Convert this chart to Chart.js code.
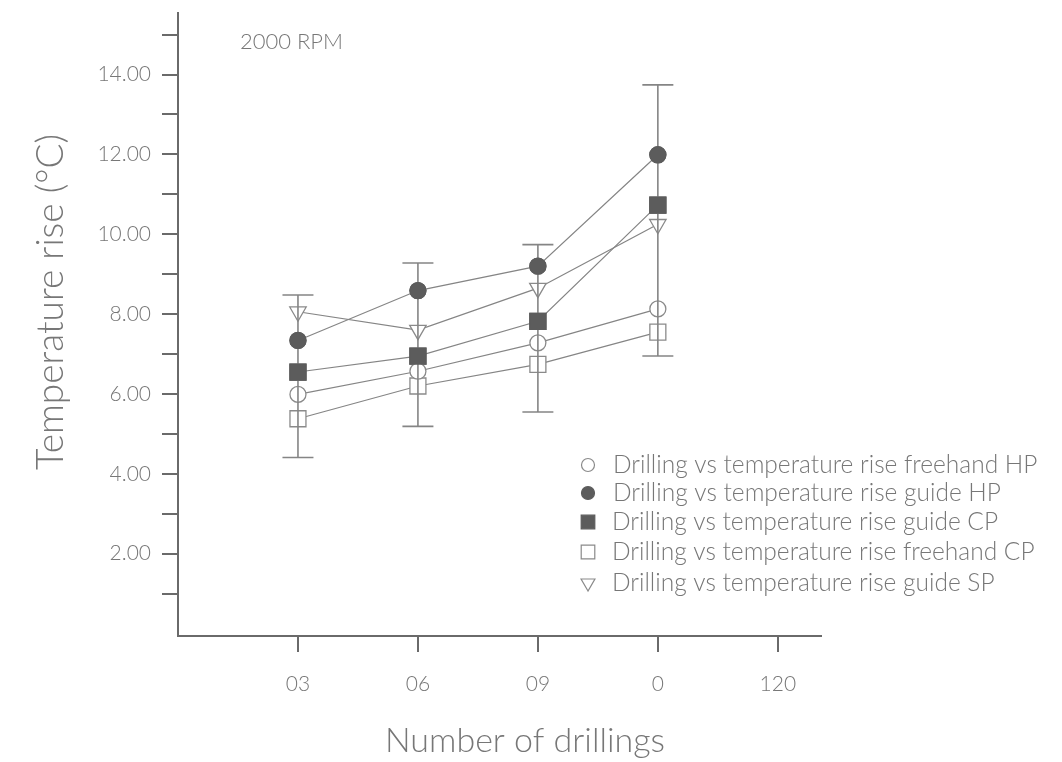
<!DOCTYPE html>
<html>
<head>
<meta charset="utf-8">
<script src="https://cdn.jsdelivr.net/npm/chart.js@4.4.1/dist/chart.umd.min.js"></script>
<style>
  html, body { margin: 0; padding: 0; background: #fff; }
  #wrap { width: 1062px; height: 762px; }
</style>
</head>
<body>
<div id="wrap"><canvas id="chart" width="1062" height="762"></canvas></div>
<script>
// ── Dati ────────────────────────────────
const xPos = [1, 2, 3, 4];
const xTickValues = [1, 2, 3, 4, 5];
const xTickLabels = ['03', '06', '09', '0', '120'];
const yTickValues = [1, 2, 3, 4, 5, 6, 7, 8, 9, 10, 11, 12, 13, 14, 15];

const freehandHP = [5.99, 6.57, 7.28, 8.13];
const guideHP    = [7.34, 8.59, 9.20, 11.99];
const guideCP    = [6.55, 6.95, 7.82, 10.73];
const freehandCP = [5.38, 6.20, 6.74, 7.55];
const guideSP    = [8.06, 7.60, 8.65, 10.25];

const errLow  = [4.41, 5.19, 5.55, 6.95];
const errHigh = [8.48, 9.28, 9.74, 13.74];

const seriesNames = [
  'Drilling vs temperature rise freehand HP',
  'Drilling vs temperature rise guide HP',
  'Drilling vs temperature rise guide CP',
  'Drilling vs temperature rise freehand CP',
  'Drilling vs temperature rise guide SP'
];

const FONT = 'Lato, "Source Sans Pro", "Open Sans", sans-serif';
const TEXT = '#777';
const AXIS = '#6a6a6a';
const LINE = '#858585';
const DARK = '#5c5c5c';

// stile marker per serie
const markers = [
  { style: 'circle',   radius: 8,    fill: '#fff', rotation: 0,   legendR: 6.5 },
  { style: 'circle',   radius: 8,    fill: DARK,   rotation: 0,   legendR: 6.5 },
  { style: 'rect',     radius: 11.3, fill: DARK,   rotation: 0,   legendR: 9.6 },
  { style: 'rect',     radius: 11.3, fill: '#fff', rotation: 0,   legendR: 9.6 },
  { style: 'triangle', radius: 9.5,  fill: '#fff', rotation: 180, legendR: 8 }
];

const seriesValues = [freehandHP, guideHP, guideCP, freehandCP, guideSP];

function makeDataset(values, i) {
  const m = markers[i];
  return {
    label: seriesNames[i],
    data: xPos.map((x, k) => ({ x, y: values[k] })),
    borderColor: LINE,
    borderWidth: 1.2,
    pointStyle: m.style,
    pointRadius: m.radius,
    pointHoverRadius: m.radius,
    pointRotation: m.rotation,
    pointBackgroundColor: m.fill,
    pointBorderColor: m.fill === DARK ? DARK : '#8a8a8a',
    pointBorderWidth: 1.3,
    tension: 0,
    fill: false
  };
}

// ── Barre di errore ─────────────────────
const errorBars = {
  id: 'errorBars',
  afterDatasetsDraw(chart) {
    const { ctx, scales: { x, y } } = chart;
    ctx.save();
    ctx.strokeStyle = LINE;
    ctx.lineWidth = 1.6;
    xPos.forEach((v, i) => {
      const px = x.getPixelForValue(v);
      const lo = y.getPixelForValue(errLow[i]);
      const hi = y.getPixelForValue(errHigh[i]);
      ctx.beginPath();
      ctx.moveTo(px, lo); ctx.lineTo(px, hi);
      ctx.moveTo(px - 15.5, lo); ctx.lineTo(px + 15.5, lo);
      ctx.moveTo(px - 15.5, hi); ctx.lineTo(px + 15.5, hi);
      ctx.stroke();
    });
    ctx.restore();
    // ridisegna i marker pieni sopra la barra
    chart.data.datasets.forEach((ds, i) => {
      if (markers[i].fill !== DARK) return;
      chart.getDatasetMeta(i).data.forEach(p => p.draw(ctx, chart.chartArea));
    });
  }
};

// ── Testi: titoli, annotazione, legenda ──
const labels = {
  id: 'labels',
  afterDraw(chart) {
    const { ctx } = chart;
    ctx.save();
    ctx.fillStyle = TEXT;

    ctx.font = `300 22px ${FONT}`;
    ctx.textAlign = 'left';
    ctx.textBaseline = 'alphabetic';
    ctx.fillText('2000 RPM', 240, 49);

    ctx.font = `300 34px ${FONT}`;
    ctx.textAlign = 'center';
    ctx.fillText('Number of drillings', 525, 752);

    ctx.font = `300 37px ${FONT}`;
    ctx.save();
    ctx.translate(63, 302);
    ctx.rotate(-Math.PI / 2);
    ctx.fillText('Temperature rise (°C)', 0, 0);
    ctx.restore();

    // legenda
    const rowY = [465, 493, 522, 552, 583];
    const textX = [613, 613, 612, 612, 612];
    ctx.font = `300 24.5px ${FONT}`;
    ctx.textAlign = 'left';
    seriesNames.forEach((name, i) => {
      const m = markers[i];
      ctx.fillStyle = m.fill;
      ctx.strokeStyle = m.fill === DARK ? DARK : '#8a8a8a';
      ctx.lineWidth = 1.2;
      Chart.helpers.drawPoint(ctx, {
        pointStyle: m.style, radius: m.legendR, rotation: m.rotation, borderWidth: 1.2
      }, 588, rowY[i]);
      ctx.fillStyle = TEXT;
      ctx.fillText(name, textX[i], rowY[i] + 8);
    });
    ctx.restore();
  }
};

new Chart(document.getElementById('chart'), {
  type: 'line',
  data: { datasets: seriesValues.map(makeDataset) },
  options: {
    responsive: false,
    animation: false,
    devicePixelRatio: 1,
    layout: { padding: { top: 10, right: 241, left: 0, bottom: 0 } },
    plugins: { legend: { display: false }, tooltip: { enabled: false } },
    scales: {
      x: {
        type: 'linear',
        min: 0,
        max: 5.36,
        afterBuildTicks: s => { s.ticks = xTickValues.map(v => ({ value: v })); },
        afterFit: s => { s.height = 126; s.paddingLeft = 0; s.paddingRight = 0; },
        ticks: {
          callback: v => xTickLabels[xTickValues.indexOf(v)],
          font: { family: FONT, size: 21, weight: 300 },
          color: TEXT,
          padding: 20,
          maxRotation: 0
        },
        grid: { drawOnChartArea: false, drawTicks: true, tickLength: 16, color: AXIS, lineWidth: 2 },
        border: { color: AXIS, width: 2 }
      },
      y: {
        min: -0.06,
        max: 15.55,
        afterBuildTicks: s => { s.ticks = yTickValues.map(v => ({ value: v })); },
        afterFit: s => { s.width = 178; s.paddingTop = 0; s.paddingBottom = 0; },
        ticks: {
          callback: v => (v % 2 === 0 ? v.toFixed(2) : ''),
          font: { family: FONT, size: 21, weight: 300 },
          color: TEXT,
          padding: 11
        },
        grid: { drawOnChartArea: false, drawTicks: true, tickLength: 16, color: AXIS, lineWidth: 2 },
        border: { color: AXIS, width: 2 }
      }
    }
  },
  plugins: [errorBars, labels]
});
</script>
</body>
</html>
